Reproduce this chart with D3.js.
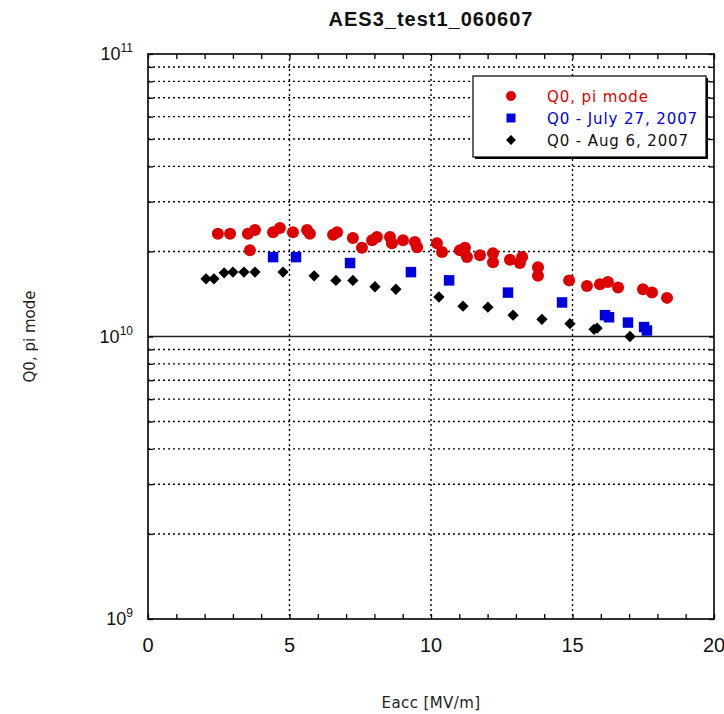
<!DOCTYPE html>
<html><head><meta charset="utf-8">
<script src="https://cdn.jsdelivr.net/npm/d3@7"></script>
<style>
html,body{margin:0;padding:0;background:#fff;}
svg{display:block;}
</style></head>
<body>
<svg id="chart" width="724" height="714"></svg>
<script>
// ---- data ----
const titleText = "AES3_test1_060607";
const xLabel = "Eacc [MV/m]";
const yLabel = "Q0, pi mode";
const xTicks = [0, 5, 10, 15, 20];
const yDecades = [1e9, 1e10, 1e11];
const yDecadeLabels = [["10","9"],["10","10"],["10","11"]];
const seriesNames = ["Q0, pi mode", "Q0 - July 27, 2007", "Q0 - Aug 6, 2007"];
const seriesColors = ["#dd0000", "#0000dd", "#000000"];

const redX = [2.47,2.90,3.53,3.78,3.60,4.42,4.66,5.12,5.62,5.72,6.54,6.68,7.24,7.56,7.92,8.09,8.55,8.62,9.01,9.43,9.51,10.21,10.39,11.02,11.20,11.27,11.73,12.19,12.19,12.79,13.14,13.22,13.78,13.78,14.88,15.51,15.97,16.25,16.61,17.49,17.81,18.34];
const redY = [2.31e10,2.31e10,2.31e10,2.38e10,2.02e10,2.34e10,2.42e10,2.34e10,2.38e10,2.31e10,2.29e10,2.34e10,2.23e10,2.06e10,2.19e10,2.25e10,2.25e10,2.14e10,2.19e10,2.16e10,2.07e10,2.14e10,1.99e10,2.02e10,2.06e10,1.91e10,1.94e10,1.97e10,1.83e10,1.87e10,1.82e10,1.91e10,1.76e10,1.64e10,1.58e10,1.51e10,1.53e10,1.56e10,1.49e10,1.47e10,1.43e10,1.37e10];

const blueX = [4.42,5.23,7.14,9.29,10.64,12.72,14.63,16.15,16.29,16.96,17.53,17.63];
const blueY = [1.91e10,1.91e10,1.82e10,1.69e10,1.58e10,1.43e10,1.32e10,1.19e10,1.17e10,1.12e10,1.08e10,1.05e10];

const blackX = [2.05,2.33,2.69,3.00,3.39,3.78,4.77,5.87,6.64,7.24,8.02,8.76,10.28,11.13,12.01,12.90,13.92,14.91,15.76,15.87,17.03];
const blackY = [1.60e10,1.60e10,1.68e10,1.69e10,1.69e10,1.69e10,1.69e10,1.64e10,1.58e10,1.58e10,1.50e10,1.47e10,1.38e10,1.28e10,1.27e10,1.19e10,1.15e10,1.11e10,1.06e10,1.07e10,1.00e10];

// ---- layout ----
const L = 148, R = 714, T = 54, B = 619;
const svg = d3.select("#chart");
const x = d3.scaleLinear().domain([0, 20]).range([L, R]);
const y = d3.scaleLog().domain([1e9, 1e11]).range([B, T]);

const tickFont = "'Liberation Sans Narrow','Liberation Sans',Arial,sans-serif";
const textFont = "'DejaVu Sans',Verdana,sans-serif";

const minorY = [];
[1e9, 1e10].forEach(d => { for (let k = 2; k <= 9; k++) minorY.push(d * k); });
const gridX = [5, 10, 15];

const grid = svg.append("g");
grid.selectAll("line.h").data(minorY).join("line")
  .attr("x1", L).attr("x2", R)
  .attr("y1", d => y(d)).attr("y2", d => y(d))
  .attr("stroke", "#000").attr("stroke-width", 1.4)
  .attr("stroke-dasharray", "2,3");
grid.selectAll("line.v").data(gridX).join("line")
  .attr("y1", T).attr("y2", B)
  .attr("x1", d => x(d)).attr("x2", d => x(d))
  .attr("stroke", "#000").attr("stroke-width", 1.4)
  .attr("stroke-dasharray", "2,3");
grid.append("line").attr("x1", L).attr("x2", R)
  .attr("y1", y(1e10)).attr("y2", y(1e10))
  .attr("stroke", "#222").attr("stroke-width", 1.5);

const xMinor = d3.range(0, 21, 1);
svg.append("g").attr("transform", `translate(0,${B})`)
  .call(d3.axisTop(x).tickValues(xMinor).tickSize(5).tickFormat(""))
  .call(g => g.select(".domain").remove());
svg.append("g").attr("transform", `translate(0,${T})`)
  .call(d3.axisBottom(x).tickValues(xMinor).tickSize(5).tickFormat(""))
  .call(g => g.select(".domain").remove());
svg.append("g").attr("transform", `translate(${L},0)`)
  .call(d3.axisRight(y).tickValues(minorY.concat(yDecades)).tickSize(5).tickFormat(""))
  .call(g => g.select(".domain").remove());
svg.append("g").attr("transform", `translate(${R},0)`)
  .call(d3.axisLeft(y).tickValues(minorY.concat(yDecades)).tickSize(5).tickFormat(""))
  .call(g => g.select(".domain").remove());
svg.selectAll(".tick line").attr("stroke", "#000").attr("stroke-width", 1.3);

svg.append("rect").attr("x", L).attr("y", T).attr("width", R - L).attr("height", B - T)
  .attr("fill", "none").attr("stroke", "#000").attr("stroke-width", 1.6);

svg.append("g").selectAll("text").data(xTicks).join("text")
  .attr("x", d => x(d)).attr("y", 652)
  .attr("text-anchor", "middle")
  .attr("font-family", tickFont).attr("font-size", 20).attr("fill", "#111")
  .text(d => d);

const yl = svg.append("g").selectAll("text").data(yDecades).join("text")
  .attr("x", 133).attr("y", d => y(d) + 6)
  .attr("text-anchor", "end")
  .attr("font-family", tickFont).attr("font-size", 18).attr("fill", "#111");
yl.append("tspan").text((d, i) => yDecadeLabels[i][0]);
yl.append("tspan").attr("dy", -8).attr("font-size", 12).text((d, i) => yDecadeLabels[i][1]);

svg.append("text").attr("x", 431).attr("y", 26).attr("text-anchor", "middle")
  .attr("font-family", "'Liberation Sans',Arial,sans-serif").attr("font-weight", "bold")
  .attr("font-size", 20).attr("letter-spacing", 1).attr("fill", "#111")
  .text(titleText);

svg.append("text").attr("x", 431).attr("y", 708).attr("text-anchor", "middle")
  .attr("font-family", textFont).attr("font-size", 15).attr("letter-spacing", 0.4).attr("fill", "#222")
  .text(xLabel);
svg.append("text").attr("transform", `translate(35,${(T + B) / 2}) rotate(-90)`)
  .attr("text-anchor", "middle")
  .attr("font-family", textFont).attr("font-size", 15).attr("fill", "#222")
  .text(yLabel);

const circleSym = d3.symbol().type(d3.symbolCircle).size(Math.PI * 6 * 6);
const squareSym = d3.symbol().type(d3.symbolSquare).size(10.5 * 10.5);
const diamondSym = d3.symbol().type(d3.symbolSquare).size(8 * 8);

const plot = svg.append("g");
plot.selectAll("path.red").data(redX.map((v, i) => [v, redY[i]])).join("path")
  .attr("transform", d => `translate(${x(d[0])},${y(d[1])})`)
  .attr("d", circleSym).attr("fill", seriesColors[0]);
plot.selectAll("path.blue").data(blueX.map((v, i) => [v, blueY[i]])).join("path")
  .attr("transform", d => `translate(${x(d[0])},${y(d[1])})`)
  .attr("d", squareSym).attr("fill", seriesColors[1]);
plot.selectAll("path.black").data(blackX.map((v, i) => [v, blackY[i]])).join("path")
  .attr("transform", d => `translate(${x(d[0])},${y(d[1])}) rotate(45)`)
  .attr("d", diamondSym).attr("fill", seriesColors[2]);

const lg = svg.append("g");
lg.append("rect").attr("x", 475).attr("y", 78).attr("width", 233).attr("height", 81).attr("fill", "#000");
lg.append("rect").attr("x", 473).attr("y", 76).attr("width", 233).attr("height", 81)
  .attr("fill", "#fff").attr("stroke", "#000").attr("stroke-width", 1.2);
const legSyms = [
  d3.symbol().type(d3.symbolCircle).size(Math.PI * 5 * 5),
  d3.symbol().type(d3.symbolSquare).size(9 * 9),
  d3.symbol().type(d3.symbolSquare).size(7 * 7)
];
seriesNames.forEach((name, i) => {
  const yy = 96 + i * 22;
  lg.append("path").attr("d", legSyms[i])
    .attr("transform", `translate(511,${yy})` + (i === 2 ? " rotate(45)" : ""))
    .attr("fill", seriesColors[i]);
  lg.append("text").attr("x", 547).attr("y", yy + 6)
    .attr("font-family", textFont).attr("font-size", 15).attr("letter-spacing", 0.9)
    .attr("fill", seriesColors[i] === "#000000" ? "#111" : seriesColors[i])
    .text(name);
});
</script>
</body></html>
